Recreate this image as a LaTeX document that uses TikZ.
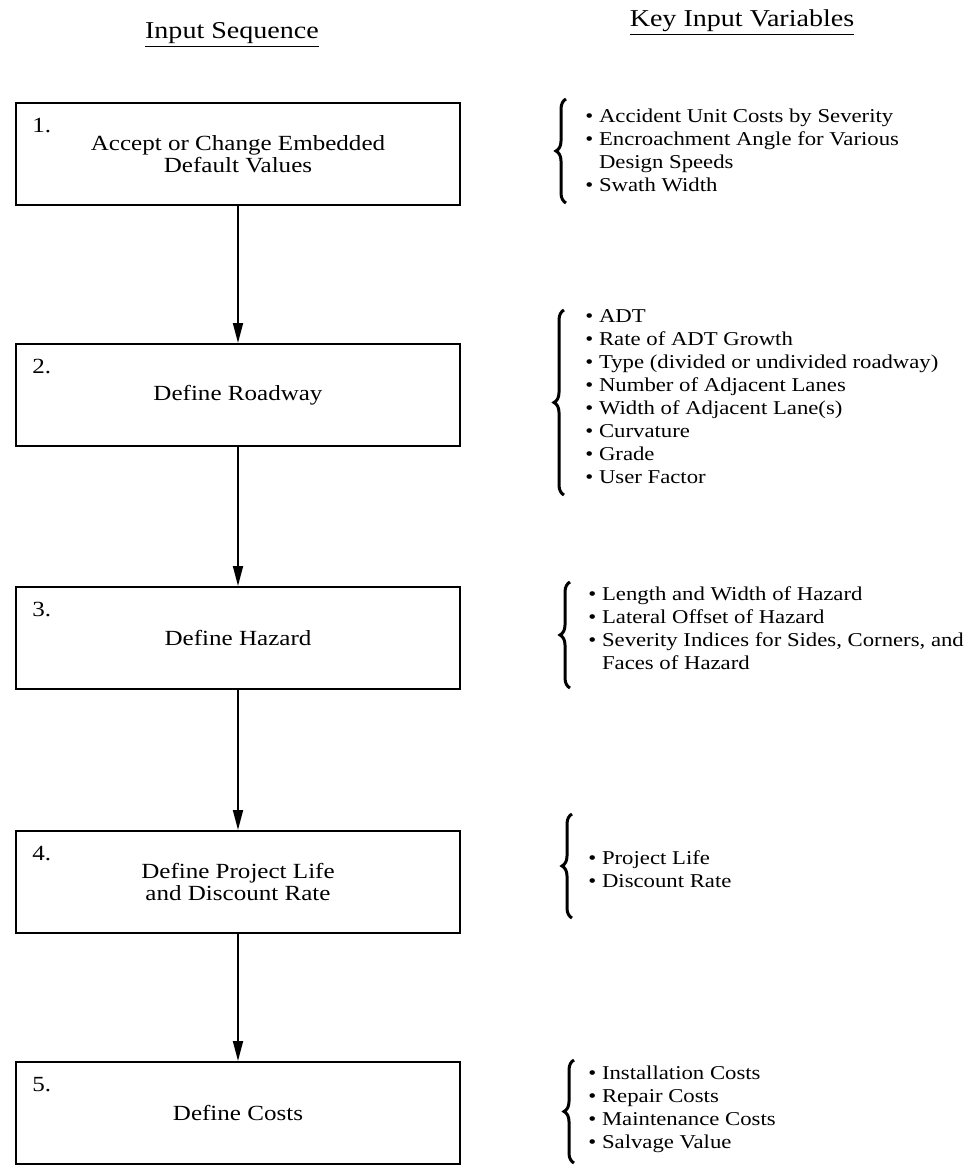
\documentclass[tikz,border=0pt]{standalone}
\usepackage{fontspec}
\setmainfont{Liberation Serif}[FakeStretch=1.16]
\usetikzlibrary{arrows.meta, positioning, decorations.pathreplacing}
\tikzstyle{heading} = [font=\fontsize{12.1}{14}\selectfont]
\tikzstyle{stepbox} = [draw=black, line width=1pt, minimum width=222pt, minimum height=51pt,
                       align=center, font=\fontsize{10.8}{11}\selectfont]
\tikzstyle{stepnum} = [inner sep=0, font=\fontsize{10.8}{11}\selectfont]
\tikzstyle{varlist} = [anchor=west, inner sep=0, align=left, font=\fontsize{9.8}{11.5}\selectfont]
\tikzstyle{flow} = [line width=0.9pt, -{Triangle[length=10pt, width=5pt]}]
\tikzstyle{curly} = [line width=1.5pt, decorate, decoration={brace, amplitude=5pt}]
\newcommand{\vitem}{\textbullet\ }
\newcommand{\vcont}{\phantom{\textbullet\ }}

\begin{document}
\begin{tikzpicture}[x=0.5pt, y=-0.5pt]
	\useasboundingbox (0, 0) rectangle (975, 1166);

	\node (SeqHead) [heading] at (232, 35) {\underline{Input Sequence}};
	\node (VarHead) [heading] at (742, 23) {\underline{Key Input Variables}};

	% step 1
	\node (Accept) [stepbox] at (238, 154) {Accept or Change Embedded\\Default Values};
	\node (AcceptNum) [stepnum, below right=8pt and 8.5pt of Accept.north west] {1.};
	\node (AcceptVars) [varlist] at (585, 150) {\vitem Accident Unit Costs by Severity\\
		\vitem Encroachment Angle for Various\\
		\vcont Design Speeds\\
		\vitem Swath Width};
	\draw [curly] (566, 203) -- (566, 99);

	% step 2
	\node (Roadway) [stepbox] at (238, 395) {Define Roadway};
	\node (RoadwayNum) [stepnum, below right=8pt and 8.5pt of Roadway.north west] {2.};
	\draw [flow] (Accept) -- (Roadway);
	\node (RoadwayVars) [varlist] at (585, 397) {\vitem ADT\\
		\vitem Rate of ADT Growth\\
		\vitem Type (divided or undivided roadway)\\
		\vitem Number of Adjacent Lanes\\
		\vitem Width of Adjacent Lane(s)\\
		\vitem Curvature\\
		\vitem Grade\\
		\vitem User Factor};
	\draw [curly] (564, 495) -- (564, 310);

	% step 3
	\node (Hazard) [stepbox] at (238, 638) {Define Hazard};
	\node (HazardNum) [stepnum, below right=8pt and 8.5pt of Hazard.north west] {3.};
	\draw [flow] (Roadway) -- (Hazard);
	\node (HazardVars) [varlist] at (588, 628) {\vitem Length and Width of Hazard\\
		\vitem Lateral Offset of Hazard\\
		\vitem Severity Indices for Sides, Corners, and\\
		\vcont Faces of Hazard};
	\draw [curly] (570, 688) -- (570, 582);

	% step 4
	\node (Life) [stepbox] at (238, 882) {Define Project Life\\and Discount Rate};
	\node (LifeNum) [stepnum, below right=8pt and 8.5pt of Life.north west] {4.};
	\draw [flow] (Hazard) -- (Life);
	\node (LifeVars) [varlist] at (588, 869) {\vitem Project Life\\
		\vitem Discount Rate};
	\draw [curly] (572, 918) -- (572, 814);

	% step 5
	\node (Costs) [stepbox] at (238, 1113) {Define Costs};
	\node (CostsNum) [stepnum, below right=8pt and 8.5pt of Costs.north west] {5.};
	\draw [flow] (Life) -- (Costs);
	\node (CostsVars) [varlist] at (588, 1109) {\vitem Installation Costs\\
		\vitem Repair Costs\\
		\vitem Maintenance Costs\\
		\vitem Salvage Value};
	\draw [curly] (574, 1163) -- (574, 1060);
\end{tikzpicture}
\end{document}
